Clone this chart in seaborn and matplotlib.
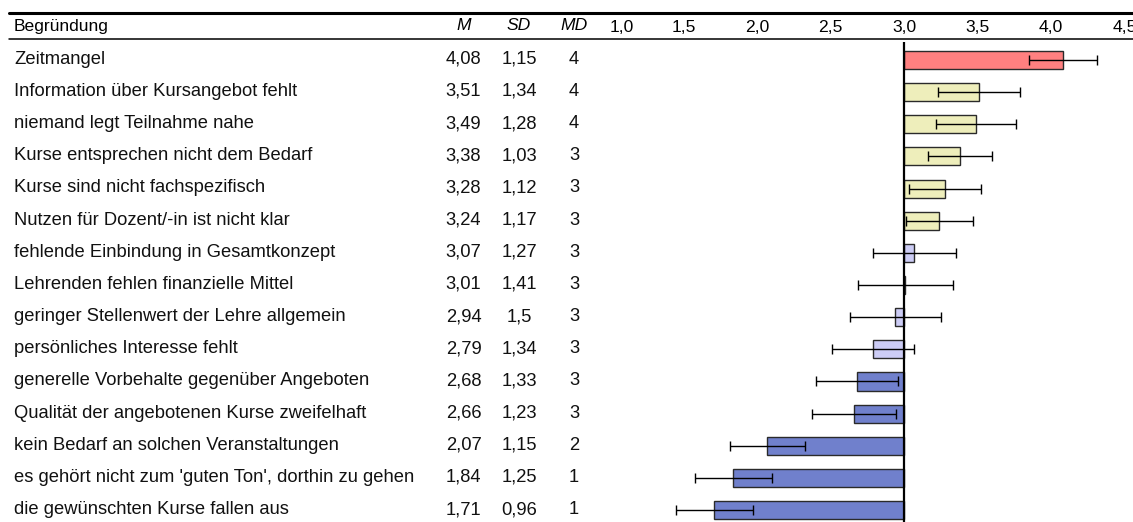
import numpy as np
import pandas as pd
import matplotlib
matplotlib.use("Agg")
import matplotlib.pyplot as plt
import matplotlib.transforms as mtransforms
from matplotlib.lines import Line2D
import seaborn as sns

# Reasons for not attending courses, with mean, SD, median and standard error
reasons = [
    "Zeitmangel",
    "Information über Kursangebot fehlt",
    "niemand legt Teilnahme nahe",
    "Kurse entsprechen nicht dem Bedarf",
    "Kurse sind nicht fachspezifisch",
    "Nutzen für Dozent/-in ist nicht klar",
    "fehlende Einbindung in Gesamtkonzept",
    "Lehrenden fehlen finanzielle Mittel",
    "geringer Stellenwert der Lehre allgemein",
    "persönliches Interesse fehlt",
    "generelle Vorbehalte gegenüber Angeboten",
    "Qualität der angebotenen Kurse zweifelhaft",
    "kein Bedarf an solchen Veranstaltungen",
    "es gehört nicht zum 'guten Ton', dorthin zu gehen",
    "die gewünschten Kurse fallen aus",
]
means = [4.08, 3.51, 3.49, 3.38, 3.28, 3.24, 3.07, 3.01, 2.94, 2.79, 2.68, 2.66, 2.07, 1.84, 1.71]
sds = [1.15, 1.34, 1.28, 1.03, 1.12, 1.17, 1.27, 1.41, 1.5, 1.34, 1.33, 1.23, 1.15, 1.25, 0.96]
medians = [4, 4, 4, 3, 3, 3, 3, 3, 3, 3, 3, 3, 2, 1, 1]
std_errors = [0.231, 0.279, 0.271, 0.219, 0.247, 0.229, 0.281, 0.324, 0.31, 0.278,
              0.277, 0.287, 0.254, 0.265, 0.264]
groups = ["top"] + ["agree"] * 5 + ["neutral"] * 4 + ["disagree"] * 5
group_colors = {"top": "#FF8080", "agree": "#EEEEBB", "neutral": "#CCCCF5", "disagree": "#7080CC"}
scale_ticks = [1.0, 1.5, 2.0, 2.5, 3.0, 3.5, 4.0, 4.5]
midpoint = 3.0

W, H = 1133, 522
sns.set_theme(style="white")
plt.rcParams["font.family"] = ["Liberation Sans", "DejaVu Sans"]


def fx(px):
    return px / W


def fy(py):
    return 1 - py / H


def de(v):
    return f"{v:g}".replace(".", ",")


fig = plt.figure(figsize=(W / 100, H / 100), dpi=100)
fig.patch.set_facecolor("white")

# chart region on the right; bars grow from the scale midpoint 3,0
ax = fig.add_axes([fx(600), 0, fx(1133) - fx(600), (H - 42) / H])
ax.set_facecolor("white")
df = pd.DataFrame({
    "reason": reasons,
    "dev": np.array(means) - midpoint,
    "group": groups,
})
row_colors = [group_colors[g] for g in groups]
sns.barplot(data=df, x="dev", y="reason", hue="reason", palette=row_colors,
            saturation=1, orient="h", width=0.56, edgecolor="#2a2a2a",
            linewidth=1.0, legend=False, ax=ax)
ypos = np.arange(len(reasons))
ax.errorbar(df["dev"], ypos, xerr=std_errors, fmt="none", ecolor="black",
            elinewidth=1.0, capsize=3.8, capthick=1.0, zorder=5)
ax.axvline(0, color="black", lw=1.6, zorder=6)

x_lo = 3 + (600 - 904) / 147 - midpoint
x_hi = 3 + (1133 - 904) / 147 - midpoint
ax.set_xlim(x_lo, x_hi)
ax.set_ylim(14.3688, -0.5566)
ax.set_xticks([t - midpoint for t in scale_ticks])
ax.set_xticklabels([f"{t:.1f}".replace(".", ",") for t in scale_ticks], fontsize=12.6)
ax.xaxis.tick_top()
ax.tick_params(axis="x", length=0, pad=5.3, colors="black")
ax.get_xticklabels()[0].set_horizontalalignment("left")
ax.set_yticks([])
ax.set_xlabel("")
ax.set_ylabel("")
for s in ax.spines.values():
    s.set_visible(False)

# table rules
fig.add_artist(Line2D([fx(9), 1], [fy(12.5), fy(12.5)], color="black", lw=2.2))
fig.add_artist(Line2D([fx(9), 1], [fy(39), fy(39)], color="black", lw=1.1))

# header
hy = fy(30.5)
fig.text(fx(14), hy, "Begründung", fontsize=12.6, va="baseline", color="black")
col_x = {"M": 463.5, "SD": 519, "MD": 574}
for name, px in col_x.items():
    fig.text(fx(px), hy, name, fontsize=12.6, style="italic", ha="center",
             va="baseline", color="black")

# table body, aligned to the bar rows
trans = mtransforms.blended_transform_factory(fig.transFigure, ax.transData)
off = 3.9 / 32.16
for i, r in enumerate(reasons):
    y = i + off
    fig.text(fx(14), y, r, transform=trans, fontsize=13.2, va="baseline", color="#111111")
    fig.text(fx(col_x["M"]), y, de(means[i]), transform=trans, fontsize=13.2,
             ha="center", va="baseline", color="#111111")
    fig.text(fx(col_x["SD"]), y, de(sds[i]), transform=trans, fontsize=13.2,
             ha="center", va="baseline", color="#111111")
    fig.text(fx(col_x["MD"]), y, str(medians[i]), transform=trans, fontsize=13.2,
             ha="center", va="baseline", color="#111111")

fig.savefig("out.png", dpi=100)
